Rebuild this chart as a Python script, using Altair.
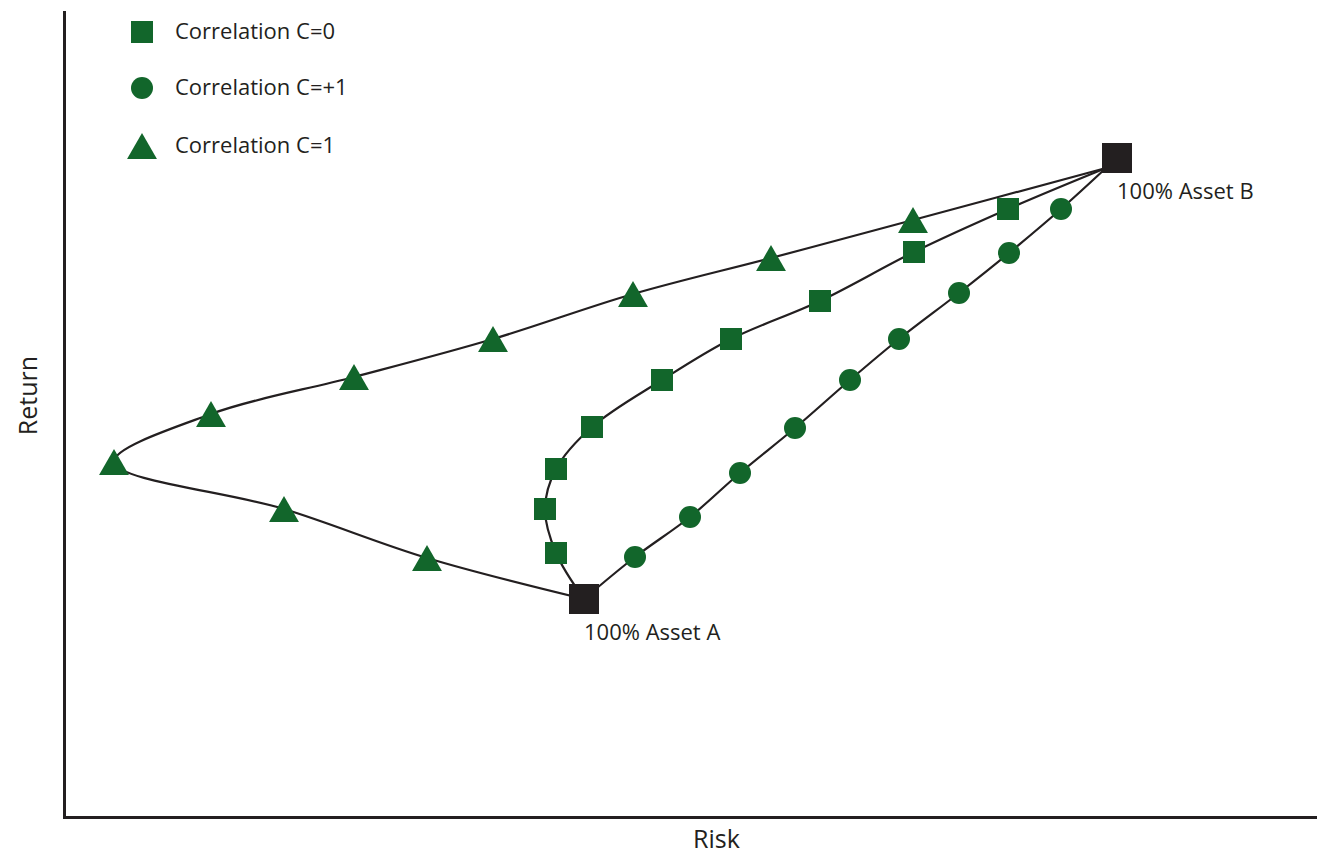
import altair as alt
import pandas as pd

GREEN = "#12662b"
DARK = "#231f20"
FONT = "Open Sans"

series_names = ["Correlation C=0", "Correlation C=+1", "Correlation C=1"]
TRI = "M0,-1.18L-1.36,1.18L1.36,1.18Z"
series_shapes = ["square", "circle", TRI]

# 100% single-asset portfolios (risk, return in arbitrary units)
asset_labels = ["100% Asset A", "100% Asset B"]
asset_risk = [52.0, 105.3]
asset_return = [21.8, 65.9]

# where the frontier curves start / end
line_start_risk, line_start_return = 52.0, 21.8
line_end_risk, line_end_return = 104.2, 64.9

# Correlation C=0 (squares)
c0_risk = [49.2, 48.1, 49.2, 52.8, 59.8, 66.7, 75.6, 85.0, 94.4]
c0_return = [26.4, 30.8, 34.8, 39.0, 43.7, 47.8, 51.6, 56.5, 60.8]

# Correlation C=+1 (circles)
cp1_risk = [57.1, 62.6, 67.6, 73.1, 78.6, 83.5, 89.5, 94.5, 99.7]
cp1_return = [26.0, 30.0, 34.4, 38.9, 43.7, 47.8, 52.4, 56.4, 60.8]

# Correlation C=1 (triangles)
c1_risk = [36.3, 22.0, 5.0, 14.7, 29.0, 42.9, 56.9, 70.7, 84.9]
c1_return = [25.9, 30.8, 35.5, 40.3, 44.0, 47.8, 52.3, 55.9, 59.7]

all_risk = [c0_risk, cp1_risk, c1_risk]
all_return = [c0_return, cp1_return, c1_return]

pt_rows, line_rows = [], []
for name, rs, rt in zip(series_names, all_risk, all_return):
    line_rows.append({"series": name, "risk": line_start_risk, "ret": line_start_return, "o": 0})
    for i, (a, b) in enumerate(zip(rs, rt)):
        pt_rows.append({"series": name, "risk": a, "ret": b})
        line_rows.append({"series": name, "risk": a, "ret": b, "o": i + 1})
    line_rows.append({"series": name, "risk": line_end_risk, "ret": line_end_return, "o": len(rs) + 1})

pts = pd.DataFrame(pt_rows)
lines = pd.DataFrame(line_rows)
assets = pd.DataFrame({"label": asset_labels, "risk": asset_risk, "ret": asset_return})

xs = alt.Scale(domain=[0, 125.3], nice=False, zero=False)
ys = alt.Scale(domain=[0, 80.5], nice=False, zero=False)

X = alt.X("risk:Q", scale=xs, axis=alt.Axis(title="Risk", titleX=652, titleY=30,
                                            titleBaseline="alphabetic", titleAlign="center"))
Y = alt.Y("ret:Q", scale=ys, axis=alt.Axis(title="Return", titleX=-28, titleY=383, titleAngle=-90,
                                           titleBaseline="alphabetic", titleAlign="center"))

leg = alt.Legend(title=None, orient="none", legendX=67, legendY=9, padding=0,
                 labelFont=FONT, labelFontSize=22, labelColor=DARK, labelOffset=22,
                 rowPadding=34, symbolStrokeWidth=0, symbolOpacity=1, symbolSize=484,
                 symbolFillColor=GREEN, labelLimit=400)

line_layer = alt.Chart(lines).mark_line(color=DARK, strokeWidth=2.2, interpolate="catmull-rom").encode(
    x=X, y=Y, detail="series:N", order="o:Q"
)

point_layer = alt.Chart(pts).mark_point(filled=True, opacity=1, strokeWidth=0, size=484).encode(
    x=X, y=Y,
    shape=alt.Shape("series:N", scale=alt.Scale(domain=series_names, range=series_shapes), legend=leg),
    color=alt.Color("series:N", scale=alt.Scale(domain=series_names, range=[GREEN] * 3), legend=leg),
)

asset_layer = alt.Chart(assets).mark_point(shape="square", size=900, filled=True, opacity=1,
                                           color=DARK, strokeWidth=0).encode(x=X, y=Y)

asset_text = alt.Chart(assets).mark_text(align="left", baseline="alphabetic", dx=0, dy=41,
                                         font=FONT, fontSize=22, color=DARK).encode(
    x=X, y=Y, text="label:N"
)

chart = alt.layer(line_layer, point_layer, asset_layer, asset_text).properties(
    width=1253, height=805,
    padding={"left": 56, "top": 4, "right": 0, "bottom": 36},
    autosize=alt.AutoSizeParams(type="none"),
).configure_view(stroke=None).configure_axis(
    domainColor=DARK, domainWidth=3, domainCap="square", ticks=False, labels=False, grid=False,
    titleFont=FONT, titleFontSize=25, titleFontWeight="normal", titleColor=DARK,
)

chart.save("out.html", embed_options={"renderer": "svg", "actions": False})
